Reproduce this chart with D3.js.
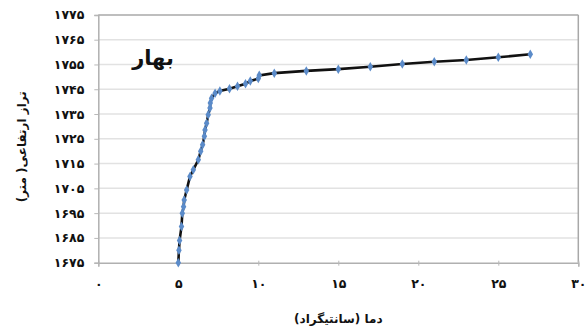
<!DOCTYPE html>
<html>
<head>
<meta charset="utf-8">
<script src="https://cdn.jsdelivr.net/npm/d3@7"></script>
<style>
  html, body { margin: 0; padding: 0; background: #fff; }
  svg { display: block; }
  text { font-family: "DejaVu Sans", "Noto Sans", sans-serif; font-weight: bold; fill: #111; }
</style>
</head>
<body>
<svg id="chart" width="585" height="331"></svg>
<script>
// Spring temperature profile against elevation
const temperature = [5.0, 5.04, 5.08, 5.2, 5.25, 5.33, 5.37, 5.52, 5.73, 5.94, 6.25, 6.4, 6.52, 6.63, 6.67, 6.77, 6.87, 6.98, 7.0, 7.08, 7.3, 7.6, 8.2, 8.7, 9.2, 9.5, 10.0, 10.06, 11.0, 13.0, 15.0, 17.0, 19.0, 21.0, 23.0, 25.0, 27.0];
const elevation = [1675, 1680, 1684, 1689.6, 1695, 1697.6, 1700.3, 1704.3, 1709.8, 1712.5, 1716.5, 1720, 1722.6, 1726, 1728.6, 1731.3, 1734.7, 1737.4, 1739.4, 1741.4, 1743.4, 1744.3, 1745.2, 1746.2, 1747.2, 1748.3, 1749.3, 1750.6, 1751.5, 1752.4, 1753.1, 1754.1, 1755.2, 1756.1, 1756.8, 1757.9, 1759.1];

const xTicks = [0, 5, 10, 15, 20, 25, 30];
const yTicks = [1675, 1685, 1695, 1705, 1715, 1725, 1735, 1745, 1755, 1765, 1775];
const seasonLabel = "بهار";
const xTitle = "دما (سانتیگراد)";
const yTitle = "تراز ارتفاعی( متر)";

const persianDigits = "۰۱۲۳۴۵۶۷۸۹";
const toPersian = n => String(n).replace(/\d/g, d => d === "0" ? "٠" : persianDigits[+d]);

const svg = d3.select("#chart");
const x = d3.scaleLinear().domain([0, 30]).range([98.3, 578.3]);
const y = d3.scaleLinear().domain([1675, 1775]).range([262.7, 14.9]);

// horizontal gridlines
svg.append("g").selectAll("line").data(yTicks.slice(1, -1)).join("line")
  .attr("x1", x(0)).attr("x2", x(30))
  .attr("y1", d => y(d)).attr("y2", d => y(d))
  .attr("stroke", "#e2e2e2").attr("stroke-width", 1.5);

// frame: top and right
svg.append("line").attr("x1", x(0)).attr("x2", x(30)).attr("y1", y(1775)).attr("y2", y(1775))
  .attr("stroke", "#a8a8a8").attr("stroke-width", 1.5);
svg.append("line").attr("x1", x(30)).attr("x2", x(30)).attr("y1", y(1775)).attr("y2", y(1675))
  .attr("stroke", "#a8a8a8").attr("stroke-width", 1.5);

// axes
const xAxis = d3.axisBottom(x).tickValues(xTicks).tickSize(4).tickPadding(12).tickFormat(toPersian);
const yAxis = d3.axisLeft(y).tickValues(yTicks).tickSize(4).tickPadding(10).tickFormat(toPersian);

const gx = svg.append("g").attr("transform", `translate(0,${y(1675)})`).call(xAxis);
const gy = svg.append("g").attr("transform", `translate(${x(0)},0)`).call(yAxis);
[gx, gy].forEach(g => {
  g.select(".domain").attr("stroke", "#b0b0b0").attr("stroke-width", 1.5);
  g.selectAll(".tick line").attr("stroke", "#b8b8b8");
  g.selectAll("text").attr("font-size", 12.5).attr("font-family", "DejaVu Sans").attr("font-weight", "bold").attr("fill", "#111");
});
gx.selectAll(".tick line").attr("y1", -2).attr("y2", 3);

// profile line and markers
const pts = temperature.map((t, i) => [t, elevation[i]]);
svg.append("path").datum(pts)
  .attr("fill", "none").attr("stroke", "#111").attr("stroke-width", 2.6)
  .attr("d", d3.line().x(d => x(d[0])).y(d => y(d[1])));

svg.append("g").selectAll("path").data(pts).join("path")
  .attr("transform", d => `translate(${x(d[0])},${y(d[1])})`)
  .attr("d", d3.symbol(d3.symbolDiamond, 26))
  .attr("fill", "#5b8bc9");

// titles
svg.append("text").attr("x", x(15)).attr("y", 323).attr("text-anchor", "middle")
  .attr("font-size", 12).text(xTitle);
svg.append("text").attr("transform", `translate(26,${y(1725) + 8}) rotate(-90)`)
  .attr("text-anchor", "middle").attr("font-size", 12).text(yTitle);
svg.append("text").attr("x", 153).attr("y", 65).attr("text-anchor", "middle")
  .attr("font-size", 21).text(seasonLabel);
</script>
</body>
</html>
